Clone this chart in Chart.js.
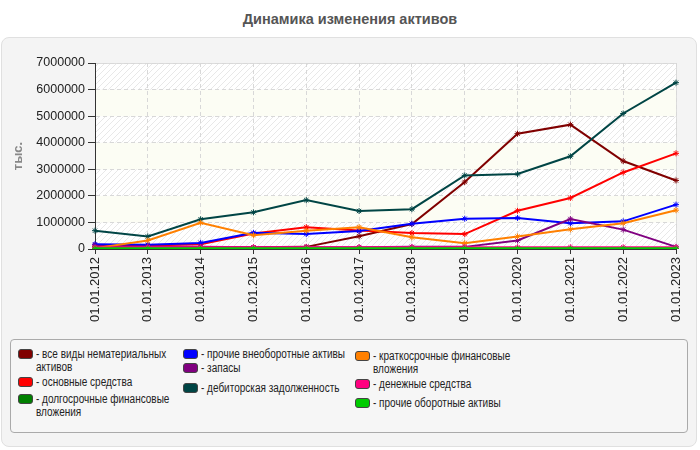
<!DOCTYPE html>
<html>
<head>
<meta charset="utf-8">
<script src="https://cdn.jsdelivr.net/npm/chart.js@4"></script>
<style>
  body { margin: 0; width: 700px; height: 450px; background: #fff; font-family: "Liberation Sans", Arial, sans-serif; position: relative; overflow: hidden; }
  #title { position: absolute; left: 0; top: 11px; width: 700px; text-align: center; font-weight: bold; font-size: 14.5px; color: #555; }
  #panel { position: absolute; left: 1px; top: 37px; width: 694px; height: 408px; background: #f4f4f4; border: 1px solid #e0e0e0; border-radius: 8px; }
  #chart { position: absolute; left: 0; top: 0; }
  #legend { position: absolute; left: 10px; top: 339px; width: 676px; height: 92px; border: 1px solid #aaa; border-radius: 4px; background: #f6f6f6; }
  .item { position: absolute; font-family: "Liberation Sans", Arial, sans-serif; font-size: 12.5px; line-height: 13px; color: #222; }
  .sw { position: absolute; left: 0; top: 1px; width: 13px; height: 8px; border: 1px solid #444; border-radius: 3px; }
  .txt { position: absolute; left: 18px; top: 0; transform: scaleX(0.8); transform-origin: 0 0; }
</style>
</head>
<body>
<div id="title">Динамика изменения активов</div>
<div id="panel"></div>
<canvas id="chart" width="700" height="340"></canvas>
<div id="legend"></div>
<script>
const categories = ['01.01.2012','01.01.2013','01.01.2014','01.01.2015','01.01.2016','01.01.2017',
                    '01.01.2018','01.01.2019','01.01.2020','01.01.2021','01.01.2022','01.01.2023'];

const seriesNames = [
    'все виды нематериальных активов',
    'основные средства',
    'долгосрочные финансовые вложения',
    'прочие внеоборотные активы',
    'запасы',
    'дебиторская задолженность',
    'краткосрочные финансовые вложения',
    'денежные средства',
    'прочие оборотные активы'
];
const seriesColors = ['#800000','#ff0000','#008000','#0000ff','#800080','#004545','#ff8000','#ff0080','#00cc00'];

// тыс.
const intangible      = [70000, 70000, 70000, 70000, 80000, 480000, 940000, 2520000, 4340000, 4680000, 3310000, 2580000];
const fixedAssets     = [150000, 130000, 180000, 580000, 820000, 700000, 600000, 560000, 1440000, 1920000, 2880000, 3600000];
const longInvest      = [0, 0, 0, 0, 0, 0, 0, 0, 0, 0, 0, 0];
const otherNonCurrent = [180000, 160000, 230000, 610000, 560000, 680000, 950000, 1140000, 1170000, 970000, 1040000, 1670000];
const inventory       = [100000, 80000, 80000, 70000, 70000, 70000, 80000, 80000, 320000, 1130000, 730000, 80000];
const receivables     = [690000, 470000, 1120000, 1380000, 1840000, 1430000, 1500000, 2770000, 2820000, 3490000, 5100000, 6260000];
const shortInvest     = [30000, 320000, 990000, 520000, 690000, 820000, 440000, 220000, 470000, 740000, 970000, 1460000];
const cash            = [60000, 70000, 70000, 70000, 70000, 70000, 70000, 70000, 70000, 70000, 70000, 70000];
const otherCurrent    = [10000, 10000, 10000, 10000, 10000, 10000, 10000, 10000, 10000, 10000, 10000, 10000];

const seriesData = [intangible, fixedAssets, longInvest, otherNonCurrent, inventory, receivables, shortInvest, cash, otherCurrent];
const yTicks = [0, 1000000, 2000000, 3000000, 4000000, 5000000, 6000000, 7000000];

// штриховка для полос фона
function makeHatch() {
    const c = document.createElement('canvas');
    c.width = 6; c.height = 6;
    const g = c.getContext('2d');
    g.fillStyle = '#ffffff';
    g.fillRect(0, 0, 6, 6);
    g.strokeStyle = '#e8e8e8';
    g.lineWidth = 1;
    g.beginPath();
    g.moveTo(0, 6); g.lineTo(6, 0);
    g.moveTo(-3, 3); g.lineTo(3, -3);
    g.moveTo(3, 9); g.lineTo(9, 3);
    g.stroke();
    return g.createPattern(c, 'repeat');
}

const bandsPlugin = {
    id: 'bands',
    beforeDraw(chart) {
        const { ctx, chartArea: a, scales: { y } } = chart;
        const hatch = makeHatch();
        ctx.save();
        for (let i = 0; i < yTicks.length - 1; i++) {
            const y0 = y.getPixelForValue(yTicks[i]);
            const y1 = y.getPixelForValue(yTicks[i + 1]);
            ctx.fillStyle = i % 2 === 0 ? hatch : '#fcfdf4';
            ctx.fillRect(a.left, y1, a.right - a.left, y0 - y1);
        }
        ctx.strokeStyle = '#dcdcdc';
        ctx.lineWidth = 1;
        ctx.beginPath();
        ctx.moveTo(a.left, a.top + 0.5);
        ctx.lineTo(a.right + 0.5, a.top + 0.5);
        ctx.lineTo(a.right + 0.5, a.bottom);
        ctx.stroke();
        ctx.restore();
    }
};

const datasets = seriesNames.map((name, i) => ({
    label: name,
    data: seriesData[i],
    borderColor: seriesColors[i],
    backgroundColor: seriesColors[i],
    borderWidth: i === 8 ? 3 : 2,
    pointStyle: 'star',
    pointRadius: 3,
    pointBorderWidth: 1,
    pointHoverRadius: 3,
    tension: 0,
    fill: false,
    order: seriesNames.length - i
}));

new Chart(document.getElementById('chart').getContext('2d'), {
    type: 'line',
    data: { labels: categories, datasets },
    options: {
        responsive: false,
        animation: false,
        layout: { padding: { left: 7, right: 24, top: 63, bottom: 0 } },
        plugins: { legend: { display: false }, tooltip: { enabled: false } },
        scales: {
            x: {
                offset: false,
                grid: { color: '#d8d8d8', tickColor: '#333', tickLength: 5, offset: false },
                border: { display: true, color: '#333', dash: [4, 3] },
                ticks: {
                    color: '#222', font: { family: 'Liberation Sans', size: 13 },
                    maxRotation: 90, minRotation: 90, padding: 3, autoSkip: false
                },
                afterFit(scale) { scale.height = 91; }
            },
            y: {
                min: 0, max: 7000000,
                grid: { color: '#d8d8d8', tickColor: '#333', tickLength: 7 },
                border: { display: true, color: '#333', dash: [4, 3] },
                ticks: {
                    stepSize: 1000000, color: '#222', padding: 3,
                    font: { family: 'Liberation Sans', size: 12.5 },
                    callback: v => String(v)
                },
                title: {
                    display: true, text: 'тыс.', color: '#888',
                    font: { family: 'Liberation Sans', size: 13, weight: 'bold' }
                },
                afterFit(scale) { scale.width = 88; }
            }
        }
    },
    plugins: [bandsPlugin]
});

// легенда: три колонки, заполняются сверху вниз
const legendPos = [
    [17, 347], [17, 375], [17, 392],
    [182, 347], [182, 361], [182, 381],
    [354, 349], [354, 377], [354, 396]
];
const legendWidth = [175, 240, 185];
const legend = document.getElementById('legend');
seriesNames.forEach((name, i) => {
    const el = document.createElement('div');
    el.className = 'item';
    el.style.left = (legendPos[i][0] - 10) + 'px';
    el.style.top = (legendPos[i][1] - 339) + 'px';
    el.innerHTML = '<div class="sw" style="background:' + seriesColors[i] + '"></div>' +
        '<div class="txt" style="width:' + legendWidth[Math.floor(i / 3)] + 'px">- ' + name + '</div>';
    legend.appendChild(el);
});
</script>
</body>
</html>
